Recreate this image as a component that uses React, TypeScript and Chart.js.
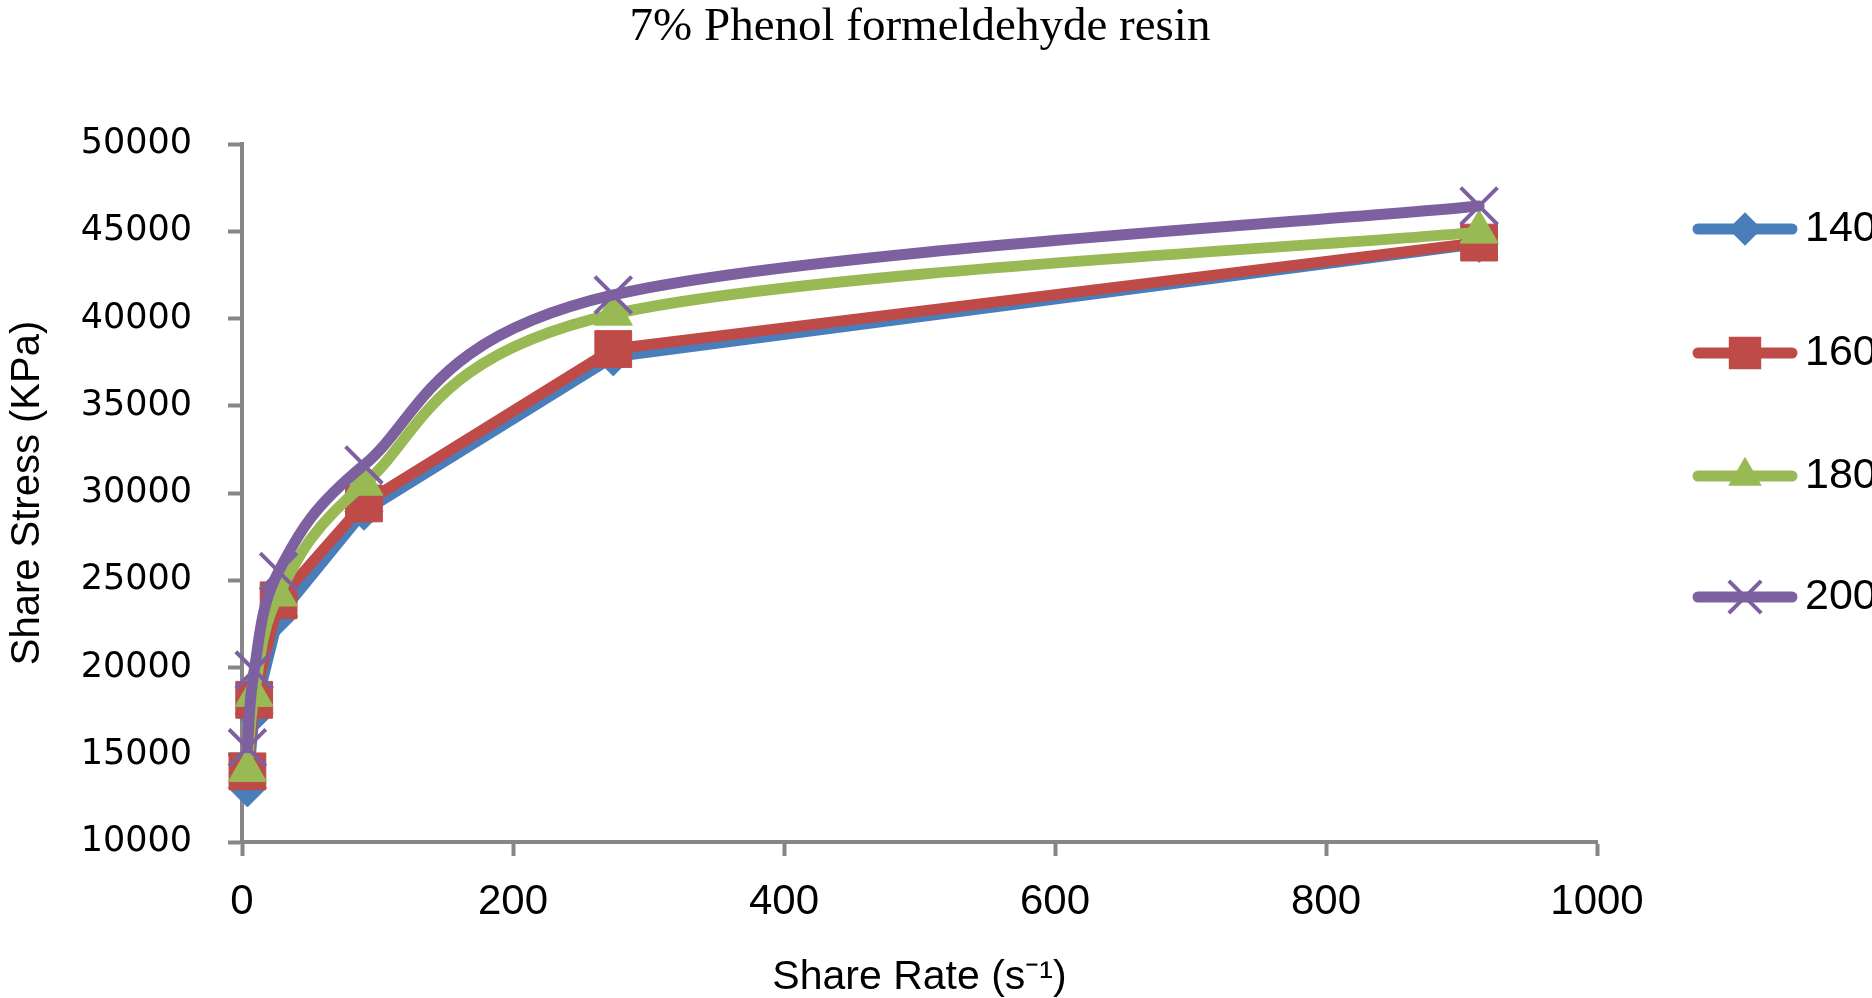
import React, { useEffect, useRef } from "react";
import { Chart, registerables } from "chart.js";

Chart.register(...registerables);

// ---- Data ----
const shearRate = [4, 9, 27, 90, 274, 913];
const stress140 = [13100, 17350, 22950, 28950, 37800, 44300];
const stress160 = [14050, 18150, 23850, 29400, 38250, 44350];
const stress180 = [14100, 18400, 24150, 30500, 40250, 44950];
const stress200 = [15400, 19850, 25500, 31600, 41350, 46450];

const seriesLabels = ["140", "160", "180", "200"];
const seriesValues = [stress140, stress160, stress180, stress200];
const seriesColors = ["#4A7EBB", "#BE4B48", "#98B954", "#7D60A0"];
const seriesMarkers = ["rectRot", "rect", "triangle", "crossRot"];
const seriesMarkerRadius = [19, 26, 22, 26];
const seriesMarkerBorder = [1, 1, 1, 4];
const seriesSmoothed = [false, false, true, true];

const chartTitle = "7% Phenol formeldehyde resin";
const xAxisTitle = "Share Rate (s\u207B\u00B9)";
const yAxisTitle = "Share Stress (KPa)";

const xMin = 0;
const xMax = 1000;
const xStep = 200;
const yMin = 10000;
const yMax = 50000;
const yStep = 5000;

const AXIS_GRAY = "#868686";
const LINE_WIDTH = 11;

function drawMarker(
  ctx: CanvasRenderingContext2D,
  style: string,
  x: number,
  y: number,
  r: number,
  color: string,
  bw: number
) {
  ctx.save();
  ctx.fillStyle = color;
  ctx.strokeStyle = color;
  ctx.lineWidth = bw;
  ctx.beginPath();
  if (style === "rectRot") {
    ctx.moveTo(x - r, y);
    ctx.lineTo(x, y - r);
    ctx.lineTo(x + r, y);
    ctx.lineTo(x, y + r);
    ctx.closePath();
    ctx.fill();
  } else if (style === "rect") {
    const s = r * Math.SQRT1_2;
    ctx.rect(x - s, y - s, 2 * s, 2 * s);
    ctx.fill();
  } else if (style === "triangle") {
    ctx.moveTo(x, y - r);
    ctx.lineTo(x + 0.866 * r, y + 0.5 * r);
    ctx.lineTo(x - 0.866 * r, y + 0.5 * r);
    ctx.closePath();
    ctx.fill();
  } else {
    const d = r * Math.SQRT1_2;
    ctx.moveTo(x - d, y - d);
    ctx.lineTo(x + d, y + d);
    ctx.moveTo(x + d, y - d);
    ctx.lineTo(x - d, y + d);
    ctx.stroke();
  }
  ctx.restore();
}

// Excel-like "smoothed line": Bezier control points at P(i) +/- (P(i+1) - P(i-1)) / 6
const excelSmoothPlugin = {
  id: "excelSmooth",
  beforeDatasetDraw(chart: any, args: any) {
    const idx = args.index;
    if (!seriesSmoothed[idx]) return;
    const meta = args.meta;
    const line = meta.dataset;
    if (line && typeof line.updateControlPoints === "function") {
      line.updateControlPoints(chart.chartArea);
    }
    const pts = meta.data;
    const n = pts.length;
    for (let i = 0; i < n; i++) {
      const p = pts[i];
      const prev = pts[i - 1] || p;
      const next = pts[i + 1] || p;
      const dx = (next.x - prev.x) / 6;
      const dy = (next.y - prev.y) / 6;
      p.cp1x = p.x - dx;
      p.cp1y = p.y - dy;
      p.cp2x = p.x + dx;
      p.cp2y = p.y + dy;
    }
  },
};

const decorPlugin = {
  id: "decor",
  afterDraw(chart: any) {
    const ctx: CanvasRenderingContext2D = chart.ctx;
    // Title
    ctx.save();
    ctx.fillStyle = "#000";
    ctx.font = "47px 'Liberation Serif', serif";
    ctx.textAlign = "center";
    ctx.textBaseline = "alphabetic";
    ctx.fillText(chartTitle, 920, 40);
    ctx.restore();

    // Legend
    const rows = [229, 353, 476, 597];
    seriesLabels.forEach((lab, i) => {
      const y = rows[i];
      ctx.save();
      ctx.strokeStyle = seriesColors[i];
      ctx.lineWidth = LINE_WIDTH;
      ctx.lineCap = "round";
      ctx.beginPath();
      ctx.moveTo(1698, y);
      ctx.lineTo(1792, y);
      ctx.stroke();
      ctx.restore();
      drawMarker(
        ctx,
        seriesMarkers[i],
        1745,
        y,
        seriesMarkerRadius[i] * 0.88,
        seriesColors[i],
        seriesMarkerBorder[i]
      );
      ctx.save();
      ctx.fillStyle = "#000";
      ctx.font = "43px 'Liberation Sans', Arial, sans-serif";
      ctx.textAlign = "left";
      ctx.textBaseline = "middle";
      ctx.fillText(lab, 1805, y);
      ctx.restore();
    });
  },
};

export default function App() {
  const canvasRef = useRef<HTMLCanvasElement | null>(null);

  useEffect(() => {
    document.body.style.margin = "0";
    const canvas = canvasRef.current;
    if (!canvas) return;

    const datasets = seriesLabels.map((lab, i) => ({
      label: lab,
      data: shearRate.map((x, j) => ({ x, y: seriesValues[i][j] })),
      showLine: true,
      borderColor: seriesColors[i],
      backgroundColor: seriesColors[i],
      borderWidth: LINE_WIDTH,
      borderJoinStyle: "round" as const,
      borderCapStyle: "round" as const,
      tension: seriesSmoothed[i] ? 0.4 : 0,
      pointStyle: seriesMarkers[i],
      pointRadius: seriesMarkerRadius[i],
      pointHoverRadius: seriesMarkerRadius[i],
      pointBackgroundColor: seriesColors[i],
      pointBorderColor: seriesColors[i],
      pointBorderWidth: seriesMarkerBorder[i],
      order: seriesLabels.length - 1 - i,
      clip: false as const,
    }));

    const chart = new Chart(canvas, {
      type: "scatter",
      data: { datasets },
      options: {
        animation: false,
        responsive: false,
        maintainAspectRatio: false,
        devicePixelRatio: 1,
        layout: { padding: { top: 144, right: 275, left: 0, bottom: 0 } },
        elements: { line: { capBezierPoints: false } },
        plugins: {
          legend: { display: false },
          title: { display: false },
          tooltip: { enabled: false },
        },
        events: [],
        scales: {
          x: {
            type: "linear",
            min: xMin,
            max: xMax,
            ticks: {
              stepSize: xStep,
              color: "#000",
              padding: 21,
              maxRotation: 0,
              font: { family: "'Liberation Sans', Arial, sans-serif", size: 42 },
              callback: (v: any) => String(v),
            },
            grid: {
              drawOnChartArea: false,
              drawTicks: true,
              tickLength: 14,
              tickWidth: 4,
              tickColor: AXIS_GRAY,
            },
            border: { display: true, color: AXIS_GRAY, width: 4 },
            title: {
              display: true,
              text: xAxisTitle,
              color: "#000",
              padding: 0,
              font: {
                family: "'Liberation Sans', Arial, sans-serif",
                size: 41,
                lineHeight: 1.0,
              },
            },
            afterFit: (s: any) => {
              s.height = 156;
            },
          },
          y: {
            type: "linear",
            min: yMin,
            max: yMax,
            ticks: {
              stepSize: yStep,
              color: "#000",
              padding: 36,
              font: { family: "'DejaVu Sans', sans-serif", size: 35 },
              callback: (v: any) => String(v),
            },
            grid: {
              drawOnChartArea: false,
              drawTicks: true,
              tickLength: 14,
              tickWidth: 4,
              tickColor: AXIS_GRAY,
            },
            border: { display: true, color: AXIS_GRAY, width: 4 },
            title: {
              display: true,
              text: yAxisTitle,
              color: "#000",
              padding: 4,
              font: { family: "'Liberation Sans', Arial, sans-serif", size: 40 },
            },
            afterFit: (s: any) => {
              s.width = 242;
            },
          },
        },
      },
      plugins: [excelSmoothPlugin, decorPlugin],
    });

    return () => {
      chart.destroy();
    };
  }, []);

  return (
    <div style={{ width: 1872, height: 998, background: "#fff" }}>
      <canvas
        ref={canvasRef}
        width={1872}
        height={998}
        style={{ display: "block", width: 1872, height: 998 }}
      />
    </div>
  );
}
